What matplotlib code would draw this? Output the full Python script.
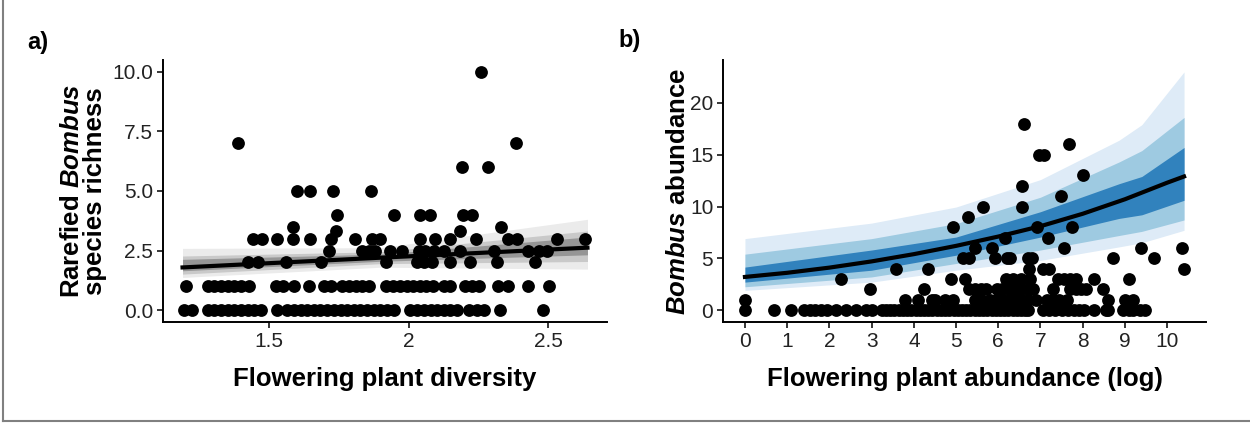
import matplotlib
matplotlib.use('Agg')
import matplotlib.pyplot as plt
from matplotlib.lines import Line2D
import numpy as np

plt.rcParams['font.family'] = ['Liberation Sans', 'DejaVu Sans']
plt.rcParams['mathtext.fontset'] = 'custom'
plt.rcParams['mathtext.rm'] = 'Liberation Sans:bold'
plt.rcParams['mathtext.it'] = 'Liberation Sans:bold:italic'
plt.rcParams['mathtext.bf'] = 'Liberation Sans:bold'

# ---- panel a: richness vs diversity (points by y level) ----
a_y0 = [1.196, 1.223, 1.28, 1.304, 1.327, 1.351, 1.375, 1.399, 1.423, 1.446, 1.47, 1.53,
        1.565, 1.589, 1.613, 1.637, 1.66, 1.684, 1.708, 1.732, 1.756, 1.779, 1.803, 1.827,
        1.851, 1.875, 1.898, 1.922, 1.946, 2.006, 2.03, 2.054, 2.078, 2.101, 2.125, 2.149,
        2.173, 2.215, 2.244, 2.268, 2.327, 2.482]
a_y1 = [1.202, 1.28, 1.304, 1.327, 1.351, 1.375, 1.399, 1.429, 1.524, 1.548, 1.59, 1.643,
        1.696, 1.72, 1.762, 1.786, 1.81, 1.833, 1.857, 1.92, 1.944, 1.967, 1.992, 2.015,
        2.039, 2.063, 2.087, 2.125, 2.149, 2.202, 2.226, 2.25, 2.321, 2.357, 2.426, 2.504]
a_y2 = [1.425, 1.461, 1.56, 1.685, 1.92, 2.03, 2.054, 2.083, 2.149, 2.219, 2.316, 2.452]
a_y25 = [1.714, 1.833, 1.857, 1.879, 1.932, 1.976, 2.036, 2.06, 2.089, 2.125, 2.182,
         2.304, 2.426, 2.468, 2.494]
a_y3 = [1.444, 1.476, 1.53, 1.587, 1.645, 1.72, 1.806, 1.867, 1.896, 2.039, 2.095, 2.146,
        2.242, 2.354, 2.389, 2.53, 2.631]
a_y33 = [1.738, 2.182]
a_y35 = [1.587, 2.33]
a_y4 = [1.744, 1.946, 2.039, 2.075, 2.194, 2.226]
a_y5 = [1.601, 1.646, 1.729, 1.865]
a_y6 = [2.19, 2.283]
a_y7 = [1.39, 2.385]
a_y10 = [2.26]

# fitted line and credible bands, panel a
a_fx = [1.19, 1.9, 2.64]
a_fit = [1.79, 2.2, 2.62]
a_out_lo = [1.37, 1.8, 1.72]
a_out_hi = [2.59, 2.62, 3.81]
a_mid_lo = [1.51, 1.95, 2.04]
a_mid_hi = [2.27, 2.45, 3.32]
a_in_lo = [1.65, 2.05, 2.32]
a_in_hi = [2.13, 2.35, 3.07]

# ---- panel b: abundance vs flowering abundance ----
b_x = [0, 0, 0.69, 1.1, 1.39, 1.53, 1.67, 1.81, 1.95, 2.16, 2.39, 2.63, 2.87, 3.0,
       3.24, 3.34, 3.44, 3.54, 3.64, 3.74, 3.84, 3.94, 4.04, 4.14, 4.24, 4.34, 4.44, 4.54,
       4.64, 4.74, 4.84, 4.94, 5.04, 5.14, 5.24, 5.34, 5.44, 5.54, 5.64, 5.74, 5.84, 5.94,
       6.04, 6.14, 6.24, 6.34, 6.44, 6.54, 6.64, 6.7, 7.06, 7.2, 7.35, 7.5, 7.65, 7.8, 7.92,
       8.04, 8.27, 8.54, 8.6, 8.96, 9.1, 9.2, 9.36, 9.48,
       3.8, 4.1, 4.43, 4.5, 4.74, 4.93, 5.45, 5.6, 5.8, 5.95, 6.1, 6.25, 6.4, 6.55, 6.7,
       6.9, 7.16, 7.3, 7.45, 7.63, 8.6, 9.0, 9.2,
       2.97, 4.24, 5.3, 5.45, 5.6, 5.7, 5.97, 6.1, 6.25, 6.4, 6.55, 6.7, 6.83, 7.3, 7.7,
       7.85, 7.95, 8.08, 8.49,
       2.28, 4.88, 5.2, 6.18, 6.35, 6.55, 6.75, 7.42, 7.56, 7.7, 7.84, 8.27, 9.1,
       3.58, 4.34, 6.72, 7.06, 7.2, 10.4,
       5.17, 5.3, 5.93, 6.2, 6.28, 6.7, 6.8, 8.72, 9.69,
       5.45, 5.85, 7.56, 9.38, 10.35,
       6.16, 7.18, 4.93, 6.92, 7.75,
       5.29, 5.65, 6.57, 7.48, 6.56, 8.01, 6.97, 7.09, 7.68, 6.61]
b_y = [1, 0, 0, 0, 0, 0, 0, 0, 0, 0, 0, 0, 0, 0,
       0, 0, 0, 0, 0, 0, 0, 0, 0, 0, 0, 0, 0, 0,
       0, 0, 0, 0, 0, 0, 0, 0, 0, 0, 0, 0, 0, 0,
       0, 0, 0, 0, 0, 0, 0, 0, 0, 0, 0, 0, 0, 0, 0,
       0, 0, 0, 0, 0, 0, 0, 0, 0,
       1, 1, 1, 1, 1, 1, 1, 1, 1, 1, 1, 1, 1, 1, 1,
       1, 1, 1, 1, 1, 1, 1, 1,
       2, 2, 2, 2, 2, 2, 2, 2, 2, 2, 2, 2, 2, 2, 2,
       2, 2, 2, 2,
       3, 3, 3, 3, 3, 3, 3, 3, 3, 3, 3, 3, 3,
       4, 4, 4, 4, 4, 4,
       5, 5, 5, 5, 5, 5, 5, 5, 5,
       6, 6, 6, 6, 6,
       7, 7, 8, 8, 8,
       9, 10, 10, 11, 12, 13, 15, 15, 16, 18]

b_lx = [0, 1, 2, 3, 4, 5, 6, 7, 8, 9, 10, 10.4]
b_fit = [3.2, 3.6, 4.1, 4.7, 5.4, 6.2, 7.1, 8.1, 9.3, 10.7, 12.3, 12.9]
b_bx = [0, 3, 5, 7, 8.86, 9.4, 10.4]
b_out_hi = [6.9, 8.4, 9.95, 12.6, 16.4, 17.9, 23.0]
b_mid_hi = [5.4, 6.9, 8.35, 10.9, 14.3, 15.4, 18.6]
b_in_hi = [4.15, 5.8, 7.05, 9.5, 12.2, 12.9, 15.7]
b_in_lo = [2.7, 3.85, 5.3, 7.05, 8.85, 9.2, 10.6]
b_mid_lo = [2.25, 3.2, 4.5, 5.8, 7.2, 7.6, 8.7]
b_out_lo = [1.9, 2.7, 3.85, 4.8, 6.1, 6.5, 7.7]

fig = plt.figure(figsize=(12.5, 4.23), dpi=100)
ax1 = fig.add_axes([0.1304, 0.2388, 0.3552, 0.6194])
ax2 = fig.add_axes([0.5784, 0.2388, 0.3864, 0.6194])

# panel a
ax1.fill_between(a_fx, a_out_lo, a_out_hi, color='#ebebeb', lw=0, zorder=1)
ax1.fill_between(a_fx, a_mid_lo, a_mid_hi, color='#c9c9c9', lw=0, zorder=1)
ax1.fill_between(a_fx, a_in_lo, a_in_hi, color='#969696', lw=0, zorder=1)
ax1.plot(a_fx, a_fit, color='black', lw=3, zorder=2)
levels = [(a_y0, 0), (a_y1, 1), (a_y2, 2), (a_y25, 2.5), (a_y3, 3), (a_y33, 3.3),
          (a_y35, 3.5), (a_y4, 4), (a_y5, 5), (a_y6, 6), (a_y7, 7), (a_y10, 10)]
for xs, lev in levels:
    ax1.scatter(xs, [lev] * len(xs), s=85, color='black', lw=0, zorder=3)
ax1.set_xlim(1.12, 2.71)
ax1.set_ylim(-0.5, 10.5)
ax1.set_xticks([1.5, 2, 2.5])
ax1.set_xticklabels(['1.5', '2', '2.5'])
ax1.set_yticks([0, 2.5, 5, 7.5, 10])
ax1.set_yticklabels(['0.0', '2.5', '5.0', '7.5', '10.0'])
ax1.set_xlabel('Flowering plant diversity', fontsize=18.5, fontweight='bold', labelpad=12)
ax1.set_ylabel('Rarefied $\\it{Bombus}$\nspecies richness', fontsize=18.5,
               fontweight='bold', labelpad=4, linespacing=0.95)

# panel b
ax2.fill_between(b_bx, b_out_lo, b_out_hi, color='#deebf7', lw=0, zorder=1)
ax2.fill_between(b_bx, b_mid_lo, b_mid_hi, color='#9ecae1', lw=0, zorder=1)
ax2.fill_between(b_bx, b_in_lo, b_in_hi, color='#3182bd', lw=0, zorder=1)
ax2.plot(b_lx, b_fit, color='black', lw=3, zorder=2)
ax2.scatter(b_x, b_y, s=85, color='black', lw=0, zorder=3)
ax2.set_xlim(-0.52, 10.92)
ax2.set_ylim(-1.15, 24.15)
ax2.set_xticks(range(0, 11))
ax2.set_yticks([0, 5, 10, 15, 20])
ax2.set_xlabel('Flowering plant abundance (log)', fontsize=18.5, fontweight='bold', labelpad=12)
ax2.set_ylabel('$\\it{Bombus}$ abundance', fontsize=18.5, fontweight='bold', labelpad=0)

for ax in (ax1, ax2):
    for s in ('top', 'right'):
        ax.spines[s].set_visible(False)
    for s in ('left', 'bottom'):
        ax.spines[s].set_linewidth(1.4)
        ax.spines[s].set_color('black')
    ax.tick_params(length=4, width=1.1, colors='black', labelcolor='#222222', pad=3,
                   labelsize=15)

fig.text(0.022, 0.90, 'a)', fontsize=17, fontweight='bold', va='center')
fig.text(0.495, 0.905, 'b)', fontsize=17, fontweight='bold', va='center')

# outer frame (left and bottom edge of the screenshot)
fig.add_artist(Line2D([0.002, 0.002], [0.005, 1.0], color='#808080', lw=1.5))
fig.add_artist(Line2D([0.002, 1.0], [0.005, 0.005], color='#808080', lw=1.5))

plt.savefig('out.png', dpi=100)
